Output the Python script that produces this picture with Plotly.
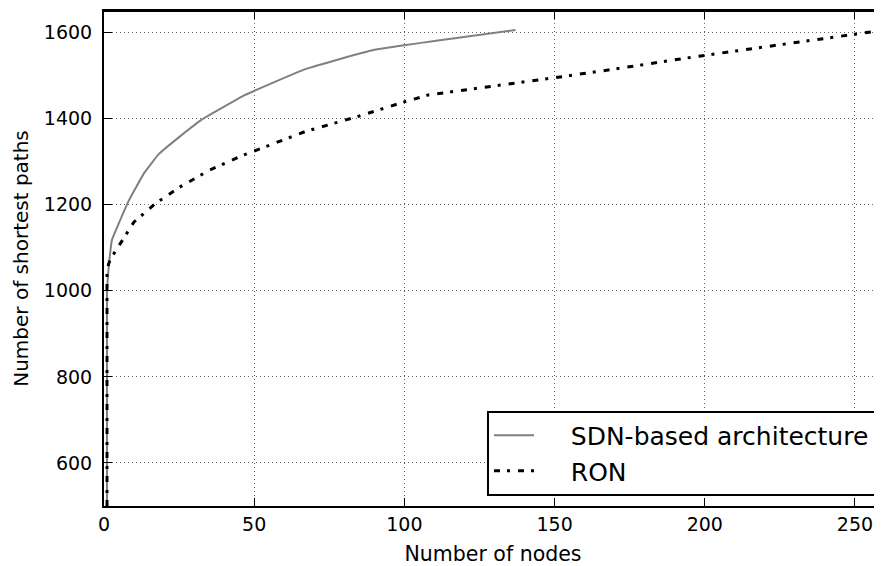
import plotly.graph_objects as go

# Data
sdn_nodes = [1, 1, 1.5, 1.8, 2.6, 4.4, 8.3, 13.5, 18.3, 25, 32.4, 47, 67, 90, 137]
sdn_paths = [500, 1000, 1050, 1072, 1117, 1148, 1210, 1275, 1318, 1357, 1397, 1455, 1515, 1560, 1606]

ron_nodes = [1, 1, 2, 6, 10, 17, 25, 35, 46, 67, 85, 100, 108, 150, 166, 198, 255, 258]
ron_paths = [500, 1050, 1072, 1117, 1160, 1202, 1240, 1280, 1314, 1370, 1406, 1439, 1455,
             1495, 1511, 1545, 1601, 1604]

x_ticks = [0, 50, 100, 150, 200, 250]
y_ticks = [600, 800, 1000, 1200, 1400, 1600]

series_names = ["\u00a0\u00a0\u00a0\u00a0SDN-based architecture", "\u00a0\u00a0\u00a0\u00a0RON"]

FONT = "DejaVu Sans"

fig = go.Figure()
fig.add_trace(go.Scatter(
    x=sdn_nodes, y=sdn_paths, mode="lines", name=series_names[0],
    line=dict(color="#808080", width=2, shape="spline", smoothing=0.3),
))
fig.add_trace(go.Scatter(
    x=ron_nodes, y=ron_paths, mode="lines", name=series_names[1],
    line=dict(color="black", width=3, dash="6px,7px,3px,8px"),
))

fig.update_layout(
    width=874, height=558,
    margin=dict(l=96, r=0, t=3, b=60, autoexpand=False),
    paper_bgcolor="white", plot_bgcolor="white",
    font=dict(family=FONT, size=19, color="black"),
    showlegend=True,
    legend=dict(
        x=0.9923, y=0.021, xanchor="right", yanchor="bottom",
        bgcolor="white", bordercolor="black", borderwidth=2,
        font=dict(family=FONT, size=25, color="black"),
        itemwidth=40, tracegroupgap=0,
    ),
    shapes=[dict(type="line", xref="paper", yref="paper", x0=0, x1=1.01, y0=1, y1=1,
                 line=dict(color="black", width=2))],
)

fig.update_xaxes(
    range=[0, 259], tickvals=x_ticks, ticktext=[str(v) for v in x_ticks],
    showline=True, linecolor="black", linewidth=2, mirror="ticks",
    ticks="inside", ticklen=8, tickwidth=1, tickcolor="black",
    showgrid=True, gridcolor="#666", gridwidth=1, griddash="1px,3px",
    zeroline=False, automargin=False,
    title=dict(text="Number of nodes", font=dict(family=FONT, size=20.5), standoff=14),
    tickfont=dict(family=FONT, size=19),
)
fig.update_yaxes(
    range=[500, 1650], tickvals=y_ticks, ticktext=[str(v) for v in y_ticks],
    showline=True, linecolor="black", linewidth=2, mirror=False,
    ticks="inside", ticklen=8, tickwidth=1, tickcolor="black",
    showgrid=True, gridcolor="#666", gridwidth=1, griddash="1px,3px",
    zeroline=False, automargin=False,
    title=dict(text="Number of shortest paths", font=dict(family=FONT, size=20), standoff=10),
    tickfont=dict(family=FONT, size=19),
    ticklabelstandoff=6,
)

fig.write_html("out.html")
